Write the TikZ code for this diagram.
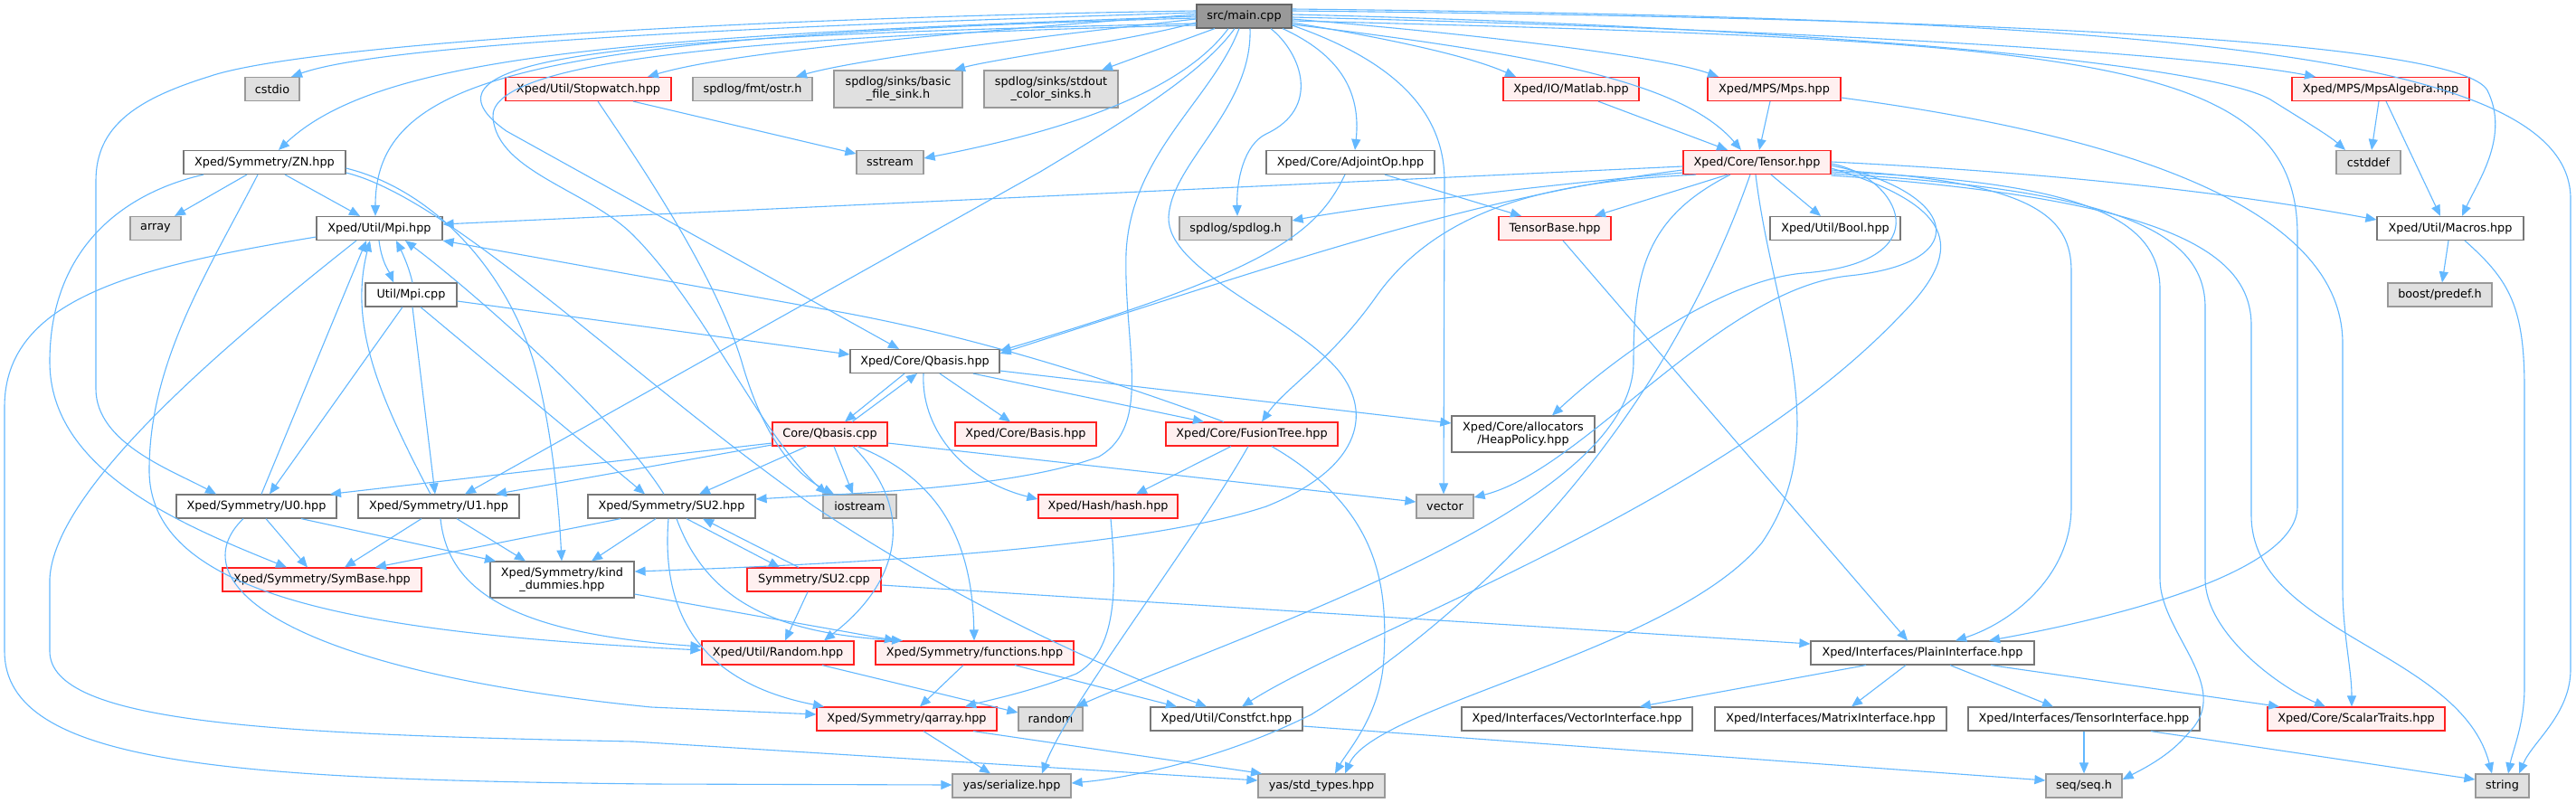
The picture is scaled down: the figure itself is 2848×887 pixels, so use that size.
\documentclass[tikz,border=0pt]{standalone}
\usepackage{fontspec}
\setmainfont{DejaVu Sans}
\usetikzlibrary{arrows.meta}
\definecolor{edgec}{HTML}{63B8FF}
\definecolor{redfill}{HTML}{FFF0F0}
\definecolor{extfill}{HTML}{E0E0E0}
\definecolor{extdraw}{HTML}{999999}
\definecolor{normdraw}{HTML}{777777}
\definecolor{mainfill}{HTML}{999999}
\definecolor{maindraw}{HTML}{666666}
\definecolor{reddraw}{HTML}{FF2020}
\begin{document}
\begin{tikzpicture}[x=1pt,y=-1pt,
  nbox/.style={line width=1.2pt, inner sep=0pt, align=center, minimum height=26pt,
     font=\fontsize{12.8}{14}\selectfont},
  nnorm/.style={nbox, draw=normdraw, fill=white},
  nred/.style={nbox, draw=reddraw, fill=redfill},
  nmain/.style={nbox, draw=maindraw, fill=mainfill},
  extbox/.style={nbox, draw=extdraw, fill=extfill},
  lnk/.style={draw=edgec, line width=1.1pt, -{Triangle[length=12pt,width=10pt]}}]
\useasboundingbox (0,0) rectangle (2848,887);
\fill[white] (0,0) rectangle (2848,887);
% row 0
\node[nmain, minimum width=105pt] (main) at (1375.5,18) {src/main.cpp};
% row 1
\node[extbox, minimum width=60pt] (cstdio) at (301,98.5) {cstdio};
\node[nred, minimum width=183pt] (stopwatch) at (650.5,98.5) {Xped/Util/Stopwatch.hpp};
\node[extbox, minimum width=132pt] (ostr) at (832,98.5) {spdlog/fmt/ostr.h};
\node[extbox, minimum width=142pt, minimum height=41pt] (basicsink) at (993,98.5) {spdlog/sinks/basic\\\_file\_sink.h};
\node[extbox, minimum width=148pt, minimum height=41pt] (stdoutsink) at (1162,98.5) {spdlog/sinks/stdout\\\_color\_sinks.h};
\node[nred, minimum width=150pt] (matlab) at (1737,98.5) {Xped/IO/Matlab.hpp};
\node[nred, minimum width=147pt] (mps) at (1961.5,98.5) {Xped/MPS/Mps.hpp};
\node[nred, minimum width=196pt] (mpsalg) at (2632,98.5) {Xped/MPS/MpsAlgebra.hpp};
% row 2
\node[nnorm, minimum width=179pt] (zn) at (292.5,179.5) {Xped/Symmetry/ZN.hpp};
\node[extbox, minimum width=74pt] (sstream) at (984,179.5) {sstream};
\node[nnorm, minimum width=186pt] (adjoint) at (1493,179.5) {Xped/Core/AdjointOp.hpp};
\node[nred, minimum width=163pt] (tensor) at (1942.5,179.5) {Xped/Core/Tensor.hpp};
\node[extbox, minimum width=71pt] (cstddef) at (2618.5,179.5) {cstddef};
% row 3
\node[extbox, minimum width=56pt] (array) at (172,252.5) {array};
\node[nnorm, minimum width=139pt] (mpihpp) at (419.5,252.5) {Xped/Util/Mpi.hpp};
\node[extbox, minimum width=124pt] (spdlog) at (1366,252.5) {spdlog/spdlog.h};
\node[nred, minimum width=124pt] (tensorbase) at (1719,252.5) {TensorBase.hpp};
\node[nnorm, minimum width=144pt] (bool) at (2029,252.5) {Xped/Util/Bool.hpp};
\node[nnorm, minimum width=162pt] (macros) at (2709,252.5) {Xped/Util/Macros.hpp};
% row 4
\node[nnorm, minimum width=101pt] (mpicpp) at (454.5,326) {Util/Mpi.cpp};
\node[extbox, minimum width=115pt] (boost) at (2697.5,326) {boost/predef.h};
% row 5
\node[nnorm, minimum width=165pt] (qbhpp) at (1022.5,399.5) {Xped/Core/Qbasis.hpp};
% row 6
\node[nred, minimum width=127pt] (qbcpp) at (917.5,480) {Core/Qbasis.cpp};
\node[nred, minimum width=156pt] (basis) at (1134,480) {Xped/Core/Basis.hpp};
\node[nred, minimum width=190pt] (fusion) at (1384,480) {Xped/Core/FusionTree.hpp};
\node[nnorm, minimum width=158pt, minimum height=40pt] (heap) at (1684,480) {Xped/Core/allocators\\/HeapPolicy.hpp};
% row 7
\node[nnorm, minimum width=177pt] (u0) at (283.5,560) {Xped/Symmetry/U0.hpp};
\node[nnorm, minimum width=178pt] (u1) at (485,560) {Xped/Symmetry/U1.hpp};
\node[nnorm, minimum width=185pt] (su2hpp) at (742.5,560) {Xped/Symmetry/SU2.hpp};
\node[extbox, minimum width=81pt] (iostream) at (950.5,560) {iostream};
\node[nred, minimum width=154pt] (hash) at (1225,560) {Xped/Hash/hash.hpp};
\node[extbox, minimum width=63pt] (vector) at (1597.5,560) {vector};
% row 8
\node[nred, minimum width=220pt] (symbase) at (356,641) {Xped/Symmetry/SymBase.hpp};
\node[nnorm, minimum width=159pt, minimum height=40pt] (kind) at (621.5,641) {Xped/Symmetry/kind\\\_dummies.hpp};
\node[nred, minimum width=148pt] (su2cpp) at (900,641) {Symmetry/SU2.cpp};
% row 9
\node[nred, minimum width=168pt] (randomh) at (860,722) {Xped/Util/Random.hpp};
\node[nred, minimum width=219pt] (functions) at (1077.5,722) {Xped/Symmetry/functions.hpp};
\node[nnorm, minimum width=247pt] (plain) at (2125.5,722) {Xped/Interfaces/PlainInterface.hpp};
% row 10
\node[nred, minimum width=199pt] (qarray) at (1002.5,795) {Xped/Symmetry/qarray.hpp};
\node[extbox, minimum width=71pt] (random) at (1161.5,795) {random};
\node[nnorm, minimum width=168pt] (constfct) at (1356,795) {Xped/Util/Constfct.hpp};
\node[nnorm, minimum width=255pt] (vecif) at (1743.5,795) {Xped/Interfaces/VectorInterface.hpp};
\node[nnorm, minimum width=256pt] (matif) at (2024,795) {Xped/Interfaces/MatrixInterface.hpp};
\node[nnorm, minimum width=256pt] (tensif) at (2304,795) {Xped/Interfaces/TensorInterface.hpp};
\node[nred, minimum width=196pt] (scalar) at (2605,795) {Xped/Core/ScalarTraits.hpp};
% row 11
\node[extbox, minimum width=131pt] (serialize) at (1118.5,869) {yas/serialize.hpp};
\node[extbox, minimum width=140pt] (stdtypes) at (1461,869) {yas/std\_types.hpp};
\node[extbox, minimum width=84pt] (seq) at (2304,869) {seq/seq.h};
\node[extbox, minimum width=59pt] (string) at (2766.5,869) {string};

% ---------- edges from main ----------
\draw[lnk] (main.west |- 0,14) .. controls (800,30) and (420,50) .. (cstdio.north -| 322,0);
\draw[lnk] (main.west |- 0,16) .. controls (1000,40) and (800,60) .. (stopwatch.north -| 716,0);
\draw[lnk] (main.west |- 0,21) .. controls (1150,40) and (950,65) .. (ostr.north -| 880,0);
\draw[lnk] (main.west |- 0,25) .. controls (1250,45) and (1100,65) .. (basicsink.north -| 1055,0);
\draw[lnk] (main.south -| 1343,0) -- (stdoutsink.north -| 1218,0);
\draw[lnk] (main.south -| 1358,0) .. controls (1300,110) and (1150,150) .. (sstream.east |- 0,175);
\draw[lnk] (main.east |- 0,25) .. controls (1520,40) and (1620,60) .. (matlab.north -| 1676,0);
\draw[lnk] (main.east |- 0,21) .. controls (1600,35) and (1830,60) .. (mps.north -| 1900,0);
\draw[lnk] (main.east |- 0,19) .. controls (1900,30) and (2400,55) .. (mpsalg.north -| 2560,0);
\draw[lnk] (main.east |- 0,16) .. controls (2000,30) and (2440,70) .. (2510,110) .. controls (2550,135) and (2575,150) .. (cstddef.north -| 2593,0);
\draw[lnk] (main.east |- 0,12) .. controls (2200,20) and (2720,45) .. (2750,100) .. controls (2775,150) and (2740,200) .. (macros.north -| 2722,0);
\draw[lnk] (main.east |- 0,10) .. controls (2400,20) and (2842,60) .. (2842,220) -- (2842,740) .. controls (2842,790) and (2800,820) .. (string.north -| 2785,0);
\draw[lnk] (main.east |- 0,27) .. controls (1700,60) and (1860,90) .. (tensor.north -| 1925,0);
\draw[lnk] (main.south -| 1418,0) .. controls (1480,60) and (1505,100) .. (adjoint.north -| 1498,0);
\draw[lnk] (main.south -| 1405,0) .. controls (1440,60) and (1460,120) .. (1400,148) .. controls (1375,160) and (1367,200) .. (spdlog.north -| 1368,0);
\draw[lnk] (main.east |- 0,23) .. controls (2300,45) and (2540,60) .. (2540,260) -- (2540,560) .. controls (2540,640) and (2300,690) .. (plain.north -| 2199,0);
\draw[lnk] (main.west |- 0,18) .. controls (700,40) and (420,60) .. (zn.north -| 308,0);
\draw[lnk] (main.west |- 0,20) .. controls (600,40) and (415,80) .. (mpihpp.north -| 415,0);
\draw[lnk] (main.west |- 0,12) .. controls (800,20) and (330,50) .. (230,85) .. controls (150,110) and (106,140) .. (106,200) -- (106,430) .. controls (106,490) and (190,520) .. (u0.north -| 239,0);
\draw[lnk] (main.west |- 0,26) .. controls (700,40) and (440,60) .. (560,145) -- (qbhpp.north -| 994,0);
\draw[lnk] (main.west |- 0,28) .. controls (800,40) and (540,70) .. (545,130) .. controls (550,190) and (650,210) .. (700,260) .. controls (780,340) and (840,480) .. (iostream.north -| 914,0);
\draw[lnk] (main.south -| 1365,0) .. controls (1330,80) and (1250,130) .. (1150,190) -- (u1.north -| 514,0);
\draw[lnk] (main.south -| 1370,0) .. controls (1340,110) and (1250,170) .. (1245,280) .. controls (1242,380) and (1275,470) .. (1215,505) .. controls (1120,540) and (950,545) .. (su2hpp.east |- 0,552);
\draw[lnk] (main.south -| 1382,0) .. controls (1385,120) and (1295,180) .. (1292,240) .. controls (1290,300) and (1430,350) .. (1480,410) .. controls (1520,460) and (1500,520) .. (1400,560) .. controls (1250,610) and (900,625) .. (kind.east |- 0,632);
\draw[lnk] (main.east |- 0,28) .. controls (1520,60) and (1597,110) .. (1597,200) -- (vector.north -| 1596,0);
\draw[lnk] (stopwatch.south -| 700,0) -- (sstream.west |- 0,170);
\draw[lnk] (stopwatch.south -| 661,0) .. controls (700,170) and (790,300) .. (820,400) .. controls (840,470) and (870,520) .. (iostream.north -| 922,0);

% ---------- ZN ----------
\draw[lnk] (zn.south -| 273,0) -- (array.north -| 193,0);
\draw[lnk] (zn.south -| 315,0) -- (mpihpp.north -| 398,0);
\draw[lnk] (zn.south -| 225,0) .. controls (130,215) and (55,280) .. (55,400) .. controls (55,520) and (200,580) .. (symbase.north -| 317,0);
\draw[lnk] (zn.south -| 285,0) .. controls (230,300) and (165,400) .. (165,520) .. controls (165,660) and (400,700) .. (randomh.west |- 0,719);
\draw[lnk] (zn.east |- 0,186) .. controls (480,210) and (560,300) .. (590,400) .. controls (610,470) and (618,560) .. (kind.north -| 621,0);
\draw[lnk] (zn.east |- 0,191) .. controls (500,220) and (700,420) .. (900,560) .. controls (1050,660) and (1200,730) .. (constfct.north -| 1334,0);

% ---------- Mpi ----------
\draw[lnk] (mpihpp.south -| 419,0) .. controls (422,290) and (430,300) .. (mpicpp.north -| 435,0);
\draw[lnk] (mpicpp.north -| 456,0) .. controls (452,295) and (445,280) .. (mpihpp.south -| 438,0);
\draw[lnk] (mpihpp.west |- 0,262) .. controls (150,295) and (5,330) .. (5,450) -- (5,720) .. controls (5,845) and (250,862) .. (720,867) -- (serialize.west |- 0,868);
\draw[lnk] (mpihpp.south -| 394,0) .. controls (250,380) and (60,540) .. (55,640) -- (55,720) .. controls (55,800) and (300,812) .. (700,820) -- (stdtypes.west |- 0,863);
\draw[lnk] (mpicpp.east |- 0,333) -- (qbhpp.west |- 0,392);
\draw[lnk] (mpicpp.south -| 445,0) -- (u0.north -| 298,0);
\draw[lnk] (mpicpp.south -| 456,0) -- (u1.north -| 481,0);
\draw[lnk] (mpicpp.south -| 465,0) -- (su2hpp.north -| 713,0);
\draw[lnk] (u0.north -| 289,0) -- (mpihpp.south -| 405,0);
\draw[lnk] (u1.north -| 476,0) .. controls (420,440) and (385,360) .. (mpihpp.south -| 409,0);
\draw[lnk] (su2hpp.north -| 734,0) .. controls (680,460) and (520,320) .. (mpihpp.south -| 448,0);

% ---------- U0 / U1 / SU2 ----------
\draw[lnk] (u0.south -| 294,0) -- (symbase.north -| 340,0);
\draw[lnk] (u0.south -| 333,0) -- (kind.north -| 548,0);
\draw[lnk] (u0.south -| 269,0) .. controls (200,640) and (300,740) .. (720,782) -- (qarray.west |- 0,790);
\draw[lnk] (u1.south -| 466,0) -- (symbase.north -| 381,0);
\draw[lnk] (u1.south -| 505,0) -- (kind.north -| 581,0);
\draw[lnk] (u1.south -| 487,0) .. controls (495,650) and (560,700) .. (randomh.west |- 0,715);
\draw[lnk] (su2hpp.south -| 686,0) -- (symbase.north -| 415,0);
\draw[lnk] (su2hpp.south -| 725,0) -- (kind.north -| 654,0);
\draw[lnk] (su2hpp.south -| 759,0) -- (su2cpp.north -| 862,0);
\draw[lnk] (su2cpp.north -| 883,0) -- (su2hpp.south -| 777,0);
\draw[lnk] (su2hpp.south -| 739,0) .. controls (733,650) and (750,750) .. (qarray.north -| 911,0);
\draw[lnk] (su2hpp.south -| 748,0) .. controls (780,660) and (850,700) .. (functions.north -| 998,0);
\draw[lnk] (su2cpp.south -| 893,0) -- (randomh.north -| 868,0);
\draw[lnk] (su2cpp.east |- 0,647) -- (plain.west |- 0,712);
\draw[lnk] (kind.east |- 0,657) -- (functions.north -| 990,0);

% ---------- Qbasis ----------
\draw[lnk] (qbhpp.south -| 1000,0) -- (qbcpp.north -| 934,0);
\draw[lnk] (qbcpp.north -| 942,0) -- (qbhpp.south -| 1014,0);
\draw[lnk] (qbhpp.south -| 1039,0) -- (basis.north -| 1117,0);
\draw[lnk] (qbhpp.south -| 1076,0) -- (fusion.north -| 1331,0);
\draw[lnk] (qbhpp.east |- 0,410) -- (heap.west |- 0,468);
\draw[lnk] (qbhpp.south -| 1021,0) .. controls (1018,470) and (1060,530) .. (hash.west |- 0,552);
\draw[lnk] (qbcpp.west |- 0,490) -- (u0.north -| 365,0);
\draw[lnk] (qbcpp.west |- 0,492) -- (u1.north -| 548,0);
\draw[lnk] (qbcpp.south -| 892,0) -- (su2hpp.north -| 773,0);
\draw[lnk] (qbcpp.south -| 922,0) -- (iostream.north -| 943,0);
\draw[lnk] (qbcpp.east |- 0,490) -- (vector.west |- 0,555);
\draw[lnk] (qbcpp.south -| 943,0) .. controls (1010,560) and (1000,640) .. (randomh.north -| 911,0);
\draw[lnk] (qbcpp.south -| 948,0) .. controls (1040,530) and (1075,600) .. (functions.north -| 1077,0);

% ---------- lower middle ----------
\draw[lnk] (randomh.south -| 909,0) -- (random.west |- 0,788);
\draw[lnk] (functions.south -| 1065,0) -- (qarray.north -| 1017,0);
\draw[lnk] (functions.south -| 1122,0) -- (constfct.north -| 1301,0);
\draw[lnk] (hash.south -| 1228,0) .. controls (1235,650) and (1235,720) .. (1190,745) .. controls (1140,765) and (1090,775) .. (qarray.north -| 1067,0);
\draw[lnk] (qarray.south -| 1021,0) -- (serialize.north -| 1095,0);
\draw[lnk] (qarray.south -| 1076,0) -- (stdtypes.north -| 1395,0);
\draw[lnk] (fusion.north -| 1353,0) .. controls (1200,410) and (1050,365) .. (900,340) -- (mpihpp.south east);
\draw[lnk] (fusion.south -| 1361,0) -- (hash.north -| 1256,0);
\draw[lnk] (fusion.south -| 1380,0) .. controls (1320,600) and (1180,780) .. (serialize.north -| 1152,0);
\draw[lnk] (fusion.south -| 1406,0) .. controls (1520,560) and (1535,640) .. (1530,727) .. controls (1527,790) and (1490,830) .. (stdtypes.north -| 1476,0);
\draw[lnk] (constfct.east |- 0,803) -- (seq.west |- 0,863);

% ---------- Tensor ----------
\draw[lnk] (mps.south -| 1957,0) -- (tensor.north -| 1945,0);
\draw[lnk] (matlab.south -| 1767,0) -- (tensor.north -| 1910,0);
\draw[lnk] (tensor.west |- 0,184) -- (mpihpp.east |- 0,248);
\draw[lnk] (tensor.west |- 0,191) .. controls (1700,205) and (1500,230) .. (spdlog.east |- 0,244);
\draw[lnk] (tensor.west |- 0,188) .. controls (1630,217) and (1420,290) .. (qbhpp.east |- 0,391);
\draw[lnk] (adjoint.south -| 1487,0) .. controls (1455,260) and (1400,300) .. (qbhpp.east |- 0,388);
\draw[lnk] (adjoint.south -| 1531,0) -- (tensorbase.north -| 1682,0);
\draw[lnk] (tensor.south -| 1910,0) -- (tensorbase.north -| 1763,0);
\draw[lnk] (tensor.south -| 1958,0) -- (bool.north -| 2013,0);
\draw[lnk] (tensor.south -| 1875,0) .. controls (1750,200) and (1600,215) .. (1520,330) .. controls (1470,400) and (1420,430) .. (fusion.north -| 1395,0);
\draw[lnk] (tensor.east |- 0,181) .. controls (2100,195) and (2150,290) .. (1994,302) .. controls (1900,310) and (1780,400) .. (heap.north -| 1716,0);
\draw[lnk] (tensor.east |- 0,183) .. controls (2160,210) and (2190,290) .. (2044,305) .. controls (1900,320) and (1750,520) .. (vector.east |- 0,550);
\draw[lnk] (tensor.east |- 0,186) .. controls (2170,230) and (2170,280) .. (2100,350) .. controls (1900,560) and (1500,700) .. (constfct.north -| 1373,0);
\draw[lnk] (tensor.south -| 1913,0) .. controls (1820,240) and (1806,300) .. (1806,400) .. controls (1806,560) and (1400,690) .. (random.north -| 1190,0);
\draw[lnk] (tensor.south -| 1935,0) .. controls (1880,350) and (1750,600) .. (1450,790) .. controls (1350,840) and (1250,860) .. (serialize.east |- 0,866);
\draw[lnk] (tensor.south -| 1941,0) .. controls (1960,350) and (2030,480) .. (1948,600) .. controls (1850,720) and (1520,780) .. (stdtypes.north -| 1487,0);
\draw[lnk] (tensor.east |- 0,179) .. controls (2250,190) and (2450,210) .. (macros.west |- 0,243);
\draw[lnk] (tensor.east |- 0,188) .. controls (2250,200) and (2290,240) .. (2290,300) -- (2290,560) .. controls (2290,640) and (2220,690) .. (plain.north -| 2162,0);
\draw[lnk] (tensor.east |- 0,190) .. controls (2300,200) and (2388,240) .. (2388,320) -- (2388,640) .. controls (2388,700) and (2470,760) .. (2420,810) .. controls (2400,835) and (2370,850) .. (seq.east |- 0,862);
\draw[lnk] (tensor.east |- 0,192) .. controls (2350,210) and (2438,260) .. (2438,340) -- (2438,640) .. controls (2438,700) and (2520,760) .. (scalar.north -| 2571,0);
\draw[lnk] (tensor.east |- 0,194) .. controls (2400,220) and (2489,280) .. (2489,360) -- (2489,570) .. controls (2489,700) and (2720,720) .. (string.north -| 2755,0);

% ---------- right side ----------
\draw[lnk] (mps.east |- 0,108) .. controls (2350,150) and (2590,230) .. (2590,380) -- (2590,650) .. controls (2590,700) and (2600,740) .. (scalar.north -| 2600,0);
\draw[lnk] (mpsalg.south -| 2630,0) -- (cstddef.north -| 2622,0);
\draw[lnk] (mpsalg.south -| 2638,0) -- (macros.north -| 2698,0);
\draw[lnk] (macros.south -| 2707,0) -- (boost.north -| 2700,0);
\draw[lnk] (macros.south -| 2725,0) .. controls (2775,310) and (2791,340) .. (2791,430) -- (2791,760) .. controls (2791,800) and (2778,830) .. (string.north -| 2773,0);
\draw[lnk] (tensorbase.south -| 1728,0) -- (plain.north -| 2109,0);
\draw[lnk] (plain.south -| 2063,0) -- (vecif.north -| 1813,0);
\draw[lnk] (plain.south -| 2107,0) -- (matif.north -| 2047,0);
\draw[lnk] (plain.south -| 2156,0) -- (tensif.north -| 2270,0);
\draw[lnk] (plain.south -| 2201,0) -- (scalar.north -| 2520,0);
\draw[lnk] (tensif.south -| 2304,0) -- (seq.north -| 2304,0);
\draw[lnk] (tensif.south -| 2378,0) -- (string.west |- 0,862);
\end{tikzpicture}
\end{document}
